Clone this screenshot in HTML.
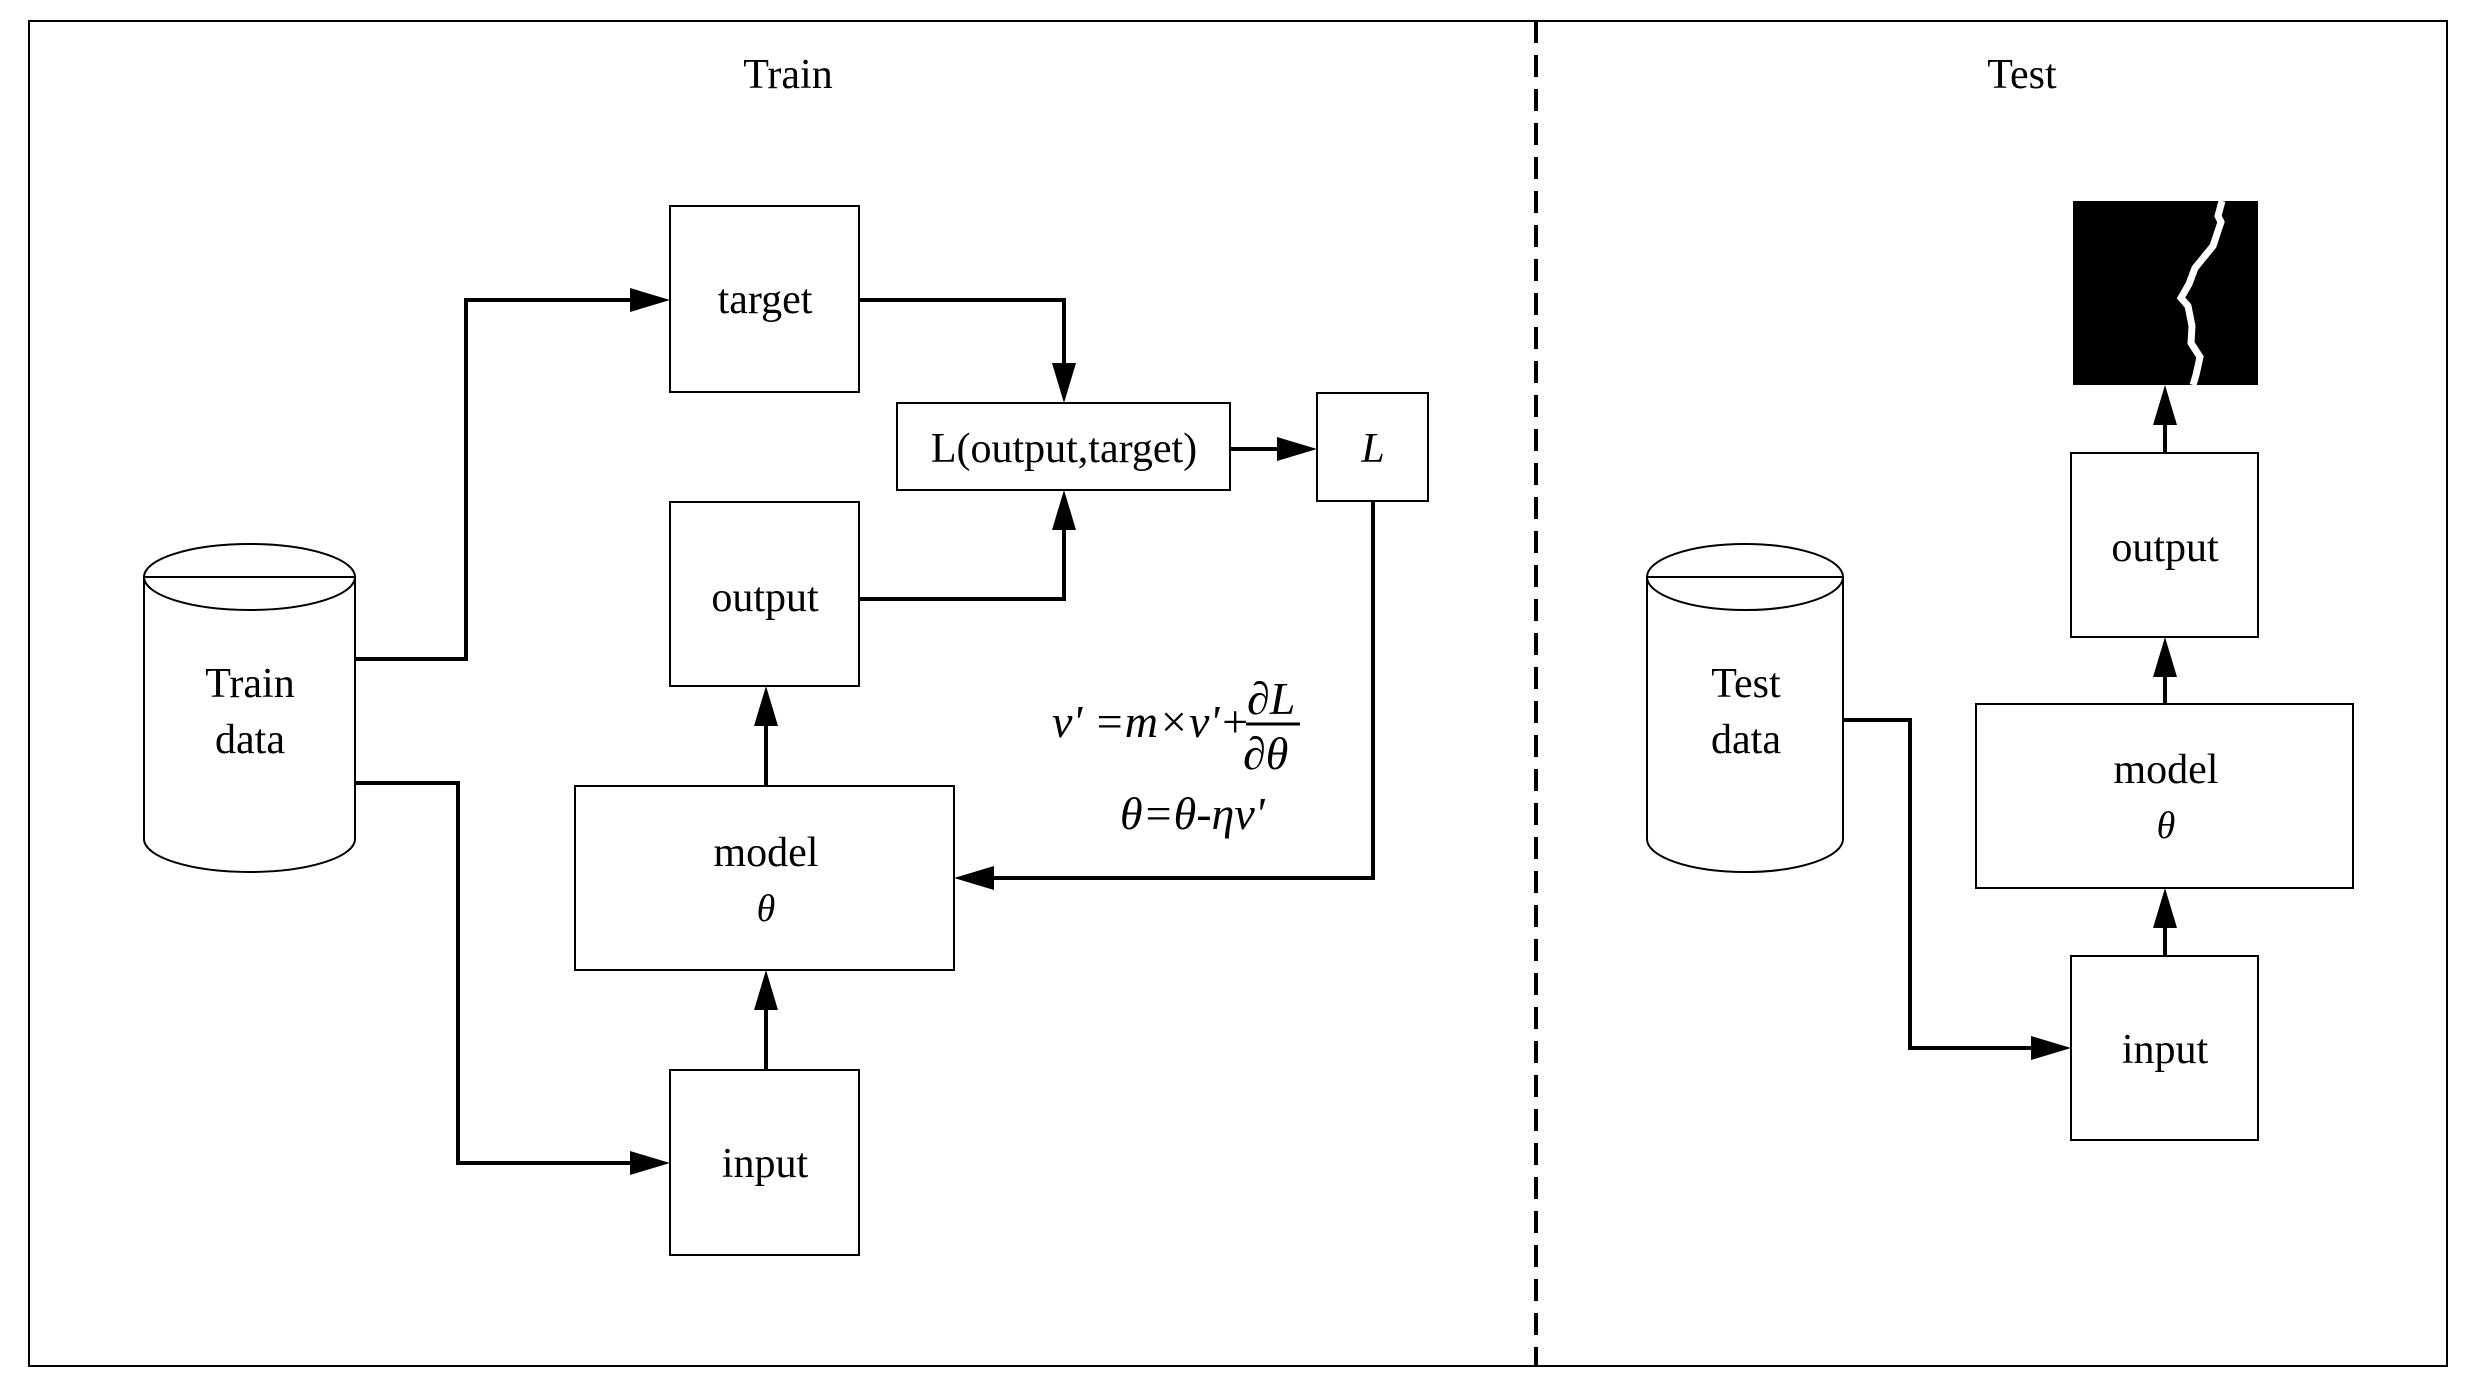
<!DOCTYPE html>
<html><head><meta charset="utf-8"><style>
html,body{margin:0;padding:0;background:#fff}
svg{display:block}
text{font-family:"Liberation Serif",serif;fill:#000}
</style></head><body>
<svg width="2479" height="1392" viewBox="0 0 2479 1392" xmlns="http://www.w3.org/2000/svg">
<rect x="29" y="21" width="2418" height="1345" fill="none" stroke="#000" stroke-width="2"/>
<line x1="1536" y1="21" x2="1536" y2="1366" stroke="#000" stroke-width="4" stroke-dasharray="22,12"/>
<text x="788" y="88" font-size="42" text-anchor="middle">Train</text>
<text x="2022" y="88" font-size="42" text-anchor="middle">Test</text>

<g fill="none" stroke="#000" stroke-width="2">
<rect x="670" y="206" width="189" height="186"/>
<rect x="897" y="403" width="333" height="87"/>
<rect x="1317" y="393" width="111" height="108"/>
<rect x="670" y="502" width="189" height="184"/>
<rect x="575" y="786" width="379" height="184"/>
<rect x="670" y="1070" width="189" height="185"/>
<rect x="2071" y="453" width="187" height="184"/>
<rect x="1976" y="704" width="377" height="184"/>
<rect x="2071" y="956" width="187" height="184"/>
<path d="M144 577 L144 839 A105.5 33 0 0 0 355 839 L355 577"/>
<ellipse cx="249.5" cy="577" rx="105.5" ry="33"/>
<line x1="144" y1="577" x2="355" y2="577"/>
<path d="M1647 577 L1647 839 A98 33 0 0 0 1843 839 L1843 577"/>
<ellipse cx="1745" cy="577" rx="98" ry="33"/>
<line x1="1647" y1="577" x2="1843" y2="577"/>
</g>

<g fill="none" stroke="#000" stroke-width="4">
<polyline points="355,659 466,659 466,300 640,300"/>
<polyline points="355,783 458,783 458,1163 640,1163"/>
<polyline points="859,300 1064,300 1064,373"/>
<polyline points="859,599 1064,599 1064,520"/>
<polyline points="1230,449 1287,449"/>
<polyline points="1373,501 1373,878 984,878"/>
<polyline points="766,786 766,716"/>
<polyline points="766,1070 766,1000"/>
<polyline points="1843,720 1910,720 1910,1048 2041,1048"/>
<polyline points="2165,453 2165,415"/>
<polyline points="2165,704 2165,667"/>
<polyline points="2165,956 2165,918"/>
</g>
<g fill="#000">
<polygon points="670,300 630,288 630,312"/>
<polygon points="670,1163 630,1151 630,1175"/>
<polygon points="1064,403 1052,363 1076,363"/>
<polygon points="1064,490 1052,530 1076,530"/>
<polygon points="1317,449 1277,437 1277,461"/>
<polygon points="954,878 994,866 994,890"/>
<polygon points="766,686 754,726 778,726"/>
<polygon points="766,970 754,1010 778,1010"/>
<polygon points="2071,1048 2031,1036 2031,1060"/>
<polygon points="2165,385 2153,425 2177,425"/>
<polygon points="2165,637 2153,677 2177,677"/>
<polygon points="2165,888 2153,928 2177,928"/>
</g>

<rect x="2073" y="201" width="185" height="184" fill="#000"/>
<polyline points="2222,201 2218,216 2221,222 2213,246 2195,268 2189,284 2181,298 2188,306 2192,326 2191,343 2200,357 2196,375 2193,385" fill="none" stroke="#fff" stroke-width="7"/>

<g font-size="42" text-anchor="middle">
<text x="765" y="313">target</text>
<text x="1064" y="462">L(output,target)</text>
<text x="1373" y="462" font-style="italic">L</text>
<text x="765" y="611">output</text>
<text x="766" y="866">model</text>
<text x="766" y="921" font-family="DejaVu Sans,sans-serif" font-style="italic" font-size="38">θ</text>
<text x="765" y="1177">input</text>
<text x="250" y="697">Train</text>
<text x="250" y="753">data</text>
<text x="2165" y="561">output</text>
<text x="2166" y="783">model</text>
<text x="2166" y="838" font-family="DejaVu Sans,sans-serif" font-style="italic" font-size="38">θ</text>
<text x="2165" y="1063">input</text>
<text x="1746" y="697">Test</text>
<text x="1746" y="753">data</text>
</g>

<g font-size="46" font-style="italic">
<text x="1052" y="737">v' =m×v'+</text>
<text x="1247" y="714">∂L</text>
<line x1="1246" y1="724" x2="1300" y2="724" stroke="#000" stroke-width="3"/>
<text x="1243" y="769">∂θ</text>
<text x="1120" y="829">θ=θ-ηv'</text>
</g>
</svg>
</body></html>
